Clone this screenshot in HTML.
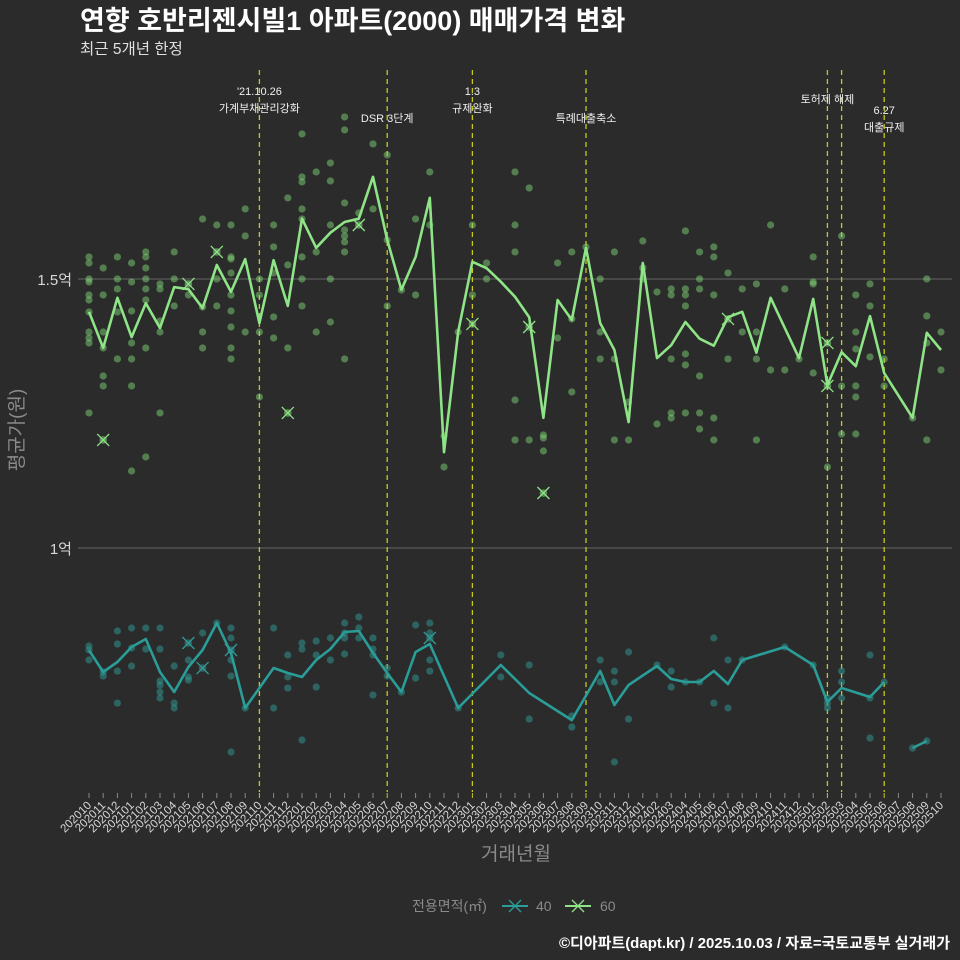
<!DOCTYPE html>
<html><head><meta charset="utf-8">
<style>
html,body{margin:0;padding:0;background:#2b2b2b;}
svg{display:block;font-family:"Liberation Sans","Noto Sans CJK KR",sans-serif;}
</style></head>
<body>
<svg id="chart" width="960" height="960" viewBox="0 0 960 960" xmlns="http://www.w3.org/2000/svg">
<rect x="0" y="0" width="960" height="960" fill="#2b2b2b"/>
<text x="80" y="30" fill="#ffffff" font-size="27" font-weight="bold">연향 호반리젠시빌1 아파트(2000) 매매가격 변화</text>
<text x="80" y="54" fill="#e0e0e0" font-size="15.5">최근 5개년 한정</text>
<g id="grid"></g>
<g id="vlines"></g>
<g id="dots"></g>
<g id="lines"></g>
<g id="xaxis"></g>
<text x="23" y="430" fill="#8a8a8a" font-size="19" text-anchor="middle" transform="rotate(-90 23 430)">평균가(원)</text>
<text x="516" y="860" fill="#8a8a8a" font-size="19" text-anchor="middle">거래년월</text>
<g>
<text x="412" y="911" fill="#8a8a8a" font-size="14">전용면적(㎡)</text>
<g>
<line x1="502" y1="906" x2="528" y2="906" stroke="#2a9d98" stroke-width="2"/>
<path d="M509,900 L521,912 M521,900 L509,912" stroke="#2a9d98" stroke-width="1.3"/>
<text x="536" y="911" fill="#8a8a8a" font-size="14">40</text>
</g>
<g>
<line x1="565" y1="906" x2="591" y2="906" stroke="#8ee486" stroke-width="2"/>
<path d="M572,900 L584,912 M584,900 L572,912" stroke="#8ee486" stroke-width="1.3"/>
<text x="600" y="911" fill="#8a8a8a" font-size="14">60</text>
</g>
</g>
<text x="950" y="948" fill="#ffffff" font-size="15" font-weight="bold" text-anchor="end">©디아파트(dapt.kr) / 2025.10.03 / 자료=국토교통부 실거래가</text>
</svg>
<script>
// ---------- data ----------
const startYear = 2020, startMonth = 10, monthCount = 61;
const yTicks = [10000, 15000];
const yTickLabels = ["1억", "1.5억"];
// average price (만원) per month index; null = no trade (connected), NaN = line break
const avg60 = [14390,13720,14650,13920,14550,14090,14850,14810,14460,15260,14760,15370,14180,15350,14500,16120,15580,15860,16060,16120,16900,15730,14800,15410,16510,11780,14020,15320,15200,14950,14670,14290,12420,14610,14240,15580,14180,13680,12340,15300,13530,13770,14200,13890,13760,14290,14390,13630,14650,14090,13530,14630,13030,13640,13380,14310,13250,null,12420,14000,13680];
const avg40 = [8100,7695,7881,8160,8308,7695,7323,7788,8104,8606,8048,7026,null,7769,7676,7602,7918,8122,8438,8457,8048,7676,7323,8067,8215,null,7026,null,null,7825,null,7304,null,null,6802,null,7713,7081,7453,null,7806,7565,7509,7509,7713,7472,7918,null,null,8160,null,7825,7137,7397,null,7230,7509,NaN,6282,6412,null];
// individual trades [monthIndex, price]
const trades60 = [
[0,15410],[0,15298],[0,15001],[0,14945],[0,14703],[0,14610],[0,14387],[0,14015],[0,13904],[0,13811],[0,12510],
[1,15205],[1,14703],[1,14015],[1,13718],[1,13197],[1,13012],
[2,15410],[2,15001],[2,14815],[2,14387],[2,13514],
[3,15298],[3,14945],[3,14406],[3,13811],[3,13514],[3,13012],[3,11431],
[4,15503],[4,15410],[4,15205],[4,15001],[4,14815],[4,14610],[4,13718],[4,11692],
[5,14908],[5,14815],[5,14220],[5,14015],[5,12510],
[6,15503],[6,15001],[6,14499],[7,14703],
[8,16116],[8,14480],[8,14015],[8,13718],
[9,16004],[9,15001],[9,14499],
[10,16004],[10,15410],[10,15373],[10,15112],[10,14703],[10,14406],[10,14108],[10,13718],[10,13514],
[11,16302],[11,15800],[11,14015],
[12,15001],[12,14703],[12,14015],[12,12807],
[13,16004],[13,15596],[13,15112],[13,14294],[13,13904],
[14,16507],[14,15261],[14,13718],
[15,17696],[15,16897],[15,16804],[15,16302],[15,16116],[15,15410],[15,15001],[15,14499],
[16,16990],[16,15503],[16,14015],
[17,17157],[17,16823],[17,16004],[17,15001],[17,14201],
[18,18012],[18,17771],[18,16414],[18,15912],[18,15800],[18,15689],[18,15503],[18,13514],
[19,16228],[20,17510],[20,16302],
[21,17306],[21,15726],[21,14499],
[22,14796],[23,16116],[23,14703],[24,16990],[24,16004],
[25,12082],[25,11506],[26,14015],[27,16004],[27,14703],[28,15298],[28,15001],
[30,16990],[30,16004],[30,15503],[30,12751],[30,12008],
[31,16692],[31,12008],[32,12101],[32,12045],[32,11803],
[33,15298],[33,13904],[34,15503],[34,14257],[34,12900],[35,15596],
[36,15001],[36,14015],[36,13514],[37,15503],[37,13514],[37,12008],
[38,12714],[38,12008],[39,15707],[39,15205],[39,15001],
[40,14759],[40,12305],
[41,14815],[41,14703],[41,13514],[41,12510],[41,12417],
[42,15893],[42,14815],[42,14703],[42,14499],[42,13606],[42,13402],[42,12510],
[43,15503],[43,15001],[43,14815],[43,13197],[43,12510],[43,12212],
[44,15596],[44,15410],[44,14703],[44,12417],[44,12008],
[45,15112],[45,13514],[46,14815],[46,14015],
[47,14908],[47,14015],[47,13514],[47,12008],
[48,16004],[48,13309],[49,14815],[49,13309],[50,13514],
[51,15410],[51,14945],[51,14908],[51,13253],[52,11506],
[53,15800],[53,13012],[53,12119],
[54,14703],[54,14015],[54,13699],[54,13012],[54,12807],[54,12119],
[55,14908],[55,14499],[55,13551],[56,13514],[56,13012],
[58,12417],[59,15001],[59,14313],[59,13811],[59,12008],[60,14015],[60,13309]
];
const cancelled60 = [[1,12008],[7,14908],[9,15503],[14,12510],[19,16004],[27,14164],[31,14108],[32,11022],[45,14257],[52,13811],[52,13012]];
const trades40 = [
[0,8178],[0,8104],[0,7918],[1,7695],[1,7620],
[2,8457],[2,8215],[2,7713],[2,7118],[3,8513],[3,8141],[3,7806],[4,8513],[4,8122],
[5,8513],[5,8122],[5,7528],[5,7453],[5,7323],[5,7212],
[6,7806],[6,7118],[6,7026],[7,7918],[7,7602],[7,7546],[8,8420],[9,8606],
[10,8513],[10,8327],[10,7918],[10,7620],[10,6208],[11,7026],[13,8513],[13,7026],
[14,8011],[14,7602],[14,7397],[15,8234],[15,8122],[15,6431],
[16,8271],[16,8011],[16,7416],[17,8327],[17,7918],
[18,8606],[18,8420],[18,8327],[18,8030],[19,8717],[19,8513],[19,8327],
[20,8327],[20,8122],[20,8011],[20,7267],[21,7769],[21,7620],[22,7323],
[23,8569],[23,7583],[24,8606],[24,8420],[24,7918],[24,7713],[26,7026],
[29,8011],[29,7602],[31,7825],[31,6821],[34,6877],[34,6672],
[36,7918],[36,7509],[37,7713],[37,7509],[37,6022],[38,8067],[38,6821],
[40,7825],[41,7713],[41,7416],[42,7509],[43,7509],[44,8327],[44,7118],
[45,7918],[45,7026],[46,7918],[49,8160],[51,7825],
[52,7212],[52,7118],[52,7026],[53,7713],[53,7509],[53,7212],
[55,8011],[55,7212],[55,6468],[56,7509],[58,6282],[59,6412]
];
const cancelled40 = [[7,8234],[8,7769],[10,8104],[24,8327]];
const eventMonths = [12,21,27,35,52,53,56];
const eventLabels = [["'21.10.26","가계부채관리강화"],["DSR 3단계"],["1.3","규제완화"],["특례대출축소"],["토허제 해제"],[],["6.27","대출규제"]];

// ---------- scales ----------
const NS = "http://www.w3.org/2000/svg";
function xScale(i){ return 89 + i * (941 - 89) / 60; }
function yScale(v){ return 548 - (v - 10000) * (548 - 279) / 5000; }
function mk(tag, attrs, parent){
  const e = document.createElementNS(NS, tag);
  for (const k in attrs) e.setAttribute(k, attrs[k]);
  parent.appendChild(e); return e;
}
const grid = document.getElementById('grid');
yTicks.forEach((t, k) => {
  const y = yScale(t);
  const l = mk('line', {x1:78, x2:952, y1:y, y2:y, stroke:'#5a5a5a', 'stroke-width':1.2}, grid);
  
  
  const tx = mk('text', {x:72, y:y+6, fill:'#d8d8d8', 'font-size':15, 'text-anchor':'end'}, grid);
  tx.textContent = yTickLabels[k];
  
  
});

const vl = document.getElementById('vlines');
eventMonths.forEach((m, k) => {
  const x = xScale(m);
  const l = mk('line', {x1:x, x2:x, y1:70, y2:792, stroke:'#c8c81e', 'stroke-width':1.3, 'stroke-dasharray':'5,4'}, vl);
  
  
  const lab = eventLabels[k];
  let y0 = lab.length === 2 ? 95 : 122;
  if (k === 4) y0 = 103;
  if (k === 6) y0 = 114;
  lab.forEach((s, j) => {
    const t = mk('text', {x:x, y:y0 + j*17, fill:'#f0f0f0', 'font-size':11, 'text-anchor':'middle'}, vl);
    t.textContent = s;
    
    
  });
});

const dots = document.getElementById('dots');
function drawTrades(arr, color, name){
  arr.forEach(p => {
    const c = mk('circle', {cx:xScale(p[0]), cy:yScale(p[1]), r:3.6, fill:color, 'fill-opacity':0.5}, dots);
    
    
  });
}
drawTrades(trades40, '#2f9c97', 'trade-point-40');
drawTrades(trades60, '#7ed276', 'trade-point-60');
function drawCancelled(arr, color, name){
  arr.forEach(p => {
    const x = xScale(p[0]), y = yScale(p[1]);
    mk('circle', {cx:x, cy:y, r:3.8, fill:color, 'fill-opacity':0.5}, dots);
    const g = mk('path', {d:`M${x-6},${y-6}L${x+6},${y+6}M${x+6},${y-6}L${x-6},${y+6}`, stroke:color, 'stroke-width':1.3, fill:'none'}, dots);
    
    
  });
}
drawCancelled(cancelled40, '#2f9c97', 'cancelled-trade-40');
drawCancelled(cancelled60, '#8ee486', 'cancelled-trade-60');

const lines = document.getElementById('lines');
function drawLine(arr, color, name){
  let d = '', pen = false;
  arr.forEach((v, i) => {
    if (v === null) return;
    if (Number.isNaN(v)) { pen = false; return; }
    d += (pen ? 'L' : 'M') + xScale(i).toFixed(1) + ',' + yScale(v).toFixed(1);
    pen = true;
  });
  const p = mk('path', {d:d, stroke:color, 'stroke-width':2.6, fill:'none', 'stroke-linejoin':'round'}, lines);
  
  
}
drawLine(avg40, '#2a9d98', 'avg-line-40');
drawLine(avg60, '#8ee486', 'avg-line-60');

const xa = document.getElementById('xaxis');
for (let i = 0; i < monthCount; i++) {
  const x = xScale(i);
  const mo = (startMonth - 1 + i) % 12 + 1;
  const yr = startYear + Math.floor((startMonth - 1 + i) / 12);
  const lab = yr + (mo < 10 ? '0' : '') + mo;
  const isEv = eventMonths.includes(i);
  const tk = mk('line', {x1:x, x2:x, y1:793, y2:798, stroke:isEv ? '#c8c81e' : '#8a8a8a', 'stroke-width':1}, xa);
  
  
  const t = mk('text', {x:x+3, y:806, fill:'#d8d8d8', 'font-size':11.5, 'text-anchor':'end', transform:`rotate(-45 ${x+3} 806)`}, xa);
  t.textContent = lab;
  
  
}
</script>
</body></html>
